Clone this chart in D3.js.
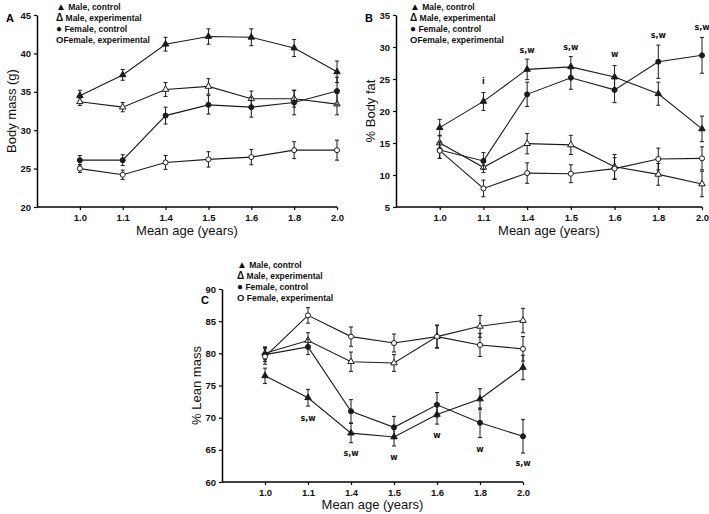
<!DOCTYPE html>
<html>
<head>
<meta charset="utf-8">
<script src="https://cdn.jsdelivr.net/npm/d3@7"></script>
<style>
  body { margin: 0; background: #fff; }
  svg { display: block; }
</style>
</head>
<body>
<svg id="fig" width="709" height="514"></svg>
<script>
// x categories, same for all three panels
const ages = ["1.0", "1.1", "1.4", "1.5", "1.6", "1.8", "2.0"];

// A - body mass (g), mean and SE
const massMaleCtrl = [34.5, 37.2, 41.2, 42.2, 42.1, 40.7, 37.6];
const massMaleCtrlSE = [0.7, 0.7, 0.9, 1.0, 1.1, 1.1, 1.4];
const massMaleExp = [33.7, 33.0, 35.3, 35.7, 34.1, 34.1, 33.4];
const massMaleExpSE = [0.5, 0.6, 0.9, 1.0, 1.0, 1.1, 1.4];
const massFemCtrl = [26.1, 26.1, 31.9, 33.3, 33.0, 33.6, 35.1];
const massFemCtrlSE = [0.6, 0.7, 1.1, 1.2, 1.3, 1.6, 1.8];
const massFemExp = [25.0, 24.2, 25.8, 26.2, 26.5, 27.4, 27.4];
const massFemExpSE = [0.5, 0.6, 0.9, 1.0, 1.0, 1.1, 1.3];
const massTicks = [20, 25, 30, 35, 40, 45];

// B - % body fat
const fatMaleCtrl = [17.4, 21.5, 26.5, 26.9, 25.3, 22.7, 17.2];
const fatMaleCtrlSE = [1.3, 1.4, 1.6, 1.6, 1.8, 1.8, 2.0];
const fatMaleExp = [15.0, 11.2, 14.9, 14.7, 11.3, 10.1, 8.6];
const fatMaleExpSE = [1.2, 0.8, 1.6, 1.5, 1.9, 1.7, 2.0];
const fatFemCtrl = [13.9, 12.2, 22.6, 25.2, 23.3, 27.7, 28.7];
const fatFemCtrlSE = [1.3, 1.3, 1.9, 1.8, 2.0, 2.6, 2.8];
const fatFemExp = [13.8, 7.9, 10.3, 10.2, 11.0, 12.5, 12.6];
const fatFemExpSE = [1.2, 1.3, 1.6, 1.4, 1.7, 1.7, 1.8];
const fatTicks = [5, 10, 15, 20, 25, 30, 35];
const fatNoteAges = ["1.1", "1.4", "1.5", "1.6", "1.8", "2.0"];
const fatNoteText = ["i", "s,w", "s,w", "w", "s,w", "s,w"];
const fatNoteAt = [24.7, 29.5, 30.0, 28.8, 31.8, 33.1];

// C - % lean mass
const leanMaleCtrl = [76.5, 73.1, 67.6, 67.0, 70.5, 72.9, 77.8];
const leanMaleCtrlSE = [1.2, 1.3, 1.5, 1.4, 1.5, 1.6, 1.9];
const leanMaleExp = [80.0, 82.0, 78.7, 78.5, 82.6, 84.2, 85.1];
const leanMaleExpSE = [1.0, 1.2, 1.5, 1.3, 1.7, 1.7, 1.9];
const leanFemCtrl = [79.8, 81.0, 71.0, 68.5, 72.0, 69.2, 67.1];
const leanFemCtrlSE = [1.1, 1.2, 1.8, 1.7, 1.9, 2.3, 2.6];
const leanFemExp = [79.5, 85.9, 82.6, 81.6, 82.6, 81.3, 80.7];
const leanFemExpSE = [1.2, 1.2, 1.5, 1.4, 1.8, 1.8, 1.9];
const leanTicks = [60, 65, 70, 75, 80, 85, 90];
const leanNoteAges = ["1.1", "1.4", "1.5", "1.6", "1.8", "2.0"];
const leanNoteText = ["s,w", "s,w", "w", "w", "w", "s,w"];
const leanNoteAt = [69.9, 64.4, 63.9, 67.3, 65.1, 62.95];

// legend: glyph + label
const legendGlyphs = ["\u25B2", "\u0394", "\u25CF", "O"];
const legendAB = [" Male, control", " Male, experimental", " Female, control", "Female, experimental"];
const legendC = [" Male, control", " Male, experimental", " Female, control", " Female, experimental"];

const ink = "#1b1b1b";
const sans = "'Liberation Sans', Arial, 'DejaVu Sans', sans-serif";
// marker style per series: triangle filled, triangle open, circle filled, circle open
const markers = [
  {type: d3.symbolTriangle, fill: ink},
  {type: d3.symbolTriangle, fill: "#fff"},
  {type: d3.symbolCircle, fill: ink},
  {type: d3.symbolCircle, fill: "#fff"}
];

const svg = d3.select("#fig");

function drawPanel(p) {
  const g = svg.append("g");
  const step = (p.right - p.left) / 7;
  const x = d3.scalePoint().domain(ages).range([p.left + step, p.right]);
  const y = d3.scaleLinear().domain([p.ticks[0], p.ticks[p.ticks.length - 1]]).range([p.bottom, p.top]);

  // axes
  const yAxis = g.append("g")
    .attr("transform", `translate(${p.left},0)`)
    .call(d3.axisLeft(y).tickValues(p.ticks).tickSize(3).tickPadding(3).tickSizeOuter(0));
  const xAxis = g.append("g")
    .attr("transform", `translate(0,${p.bottom})`)
    .call(d3.axisBottom(x).tickSize(3).tickPadding(4).tickSizeOuter(0));
  xAxis.select(".domain").attr("d", `M${p.left},0H${p.right}`);
  [yAxis, xAxis].forEach(a => {
    a.select(".domain").attr("stroke", "#000").attr("stroke-width", 1.5);
    a.selectAll(".tick line").attr("stroke", "#000").attr("stroke-width", 1.2);
    a.selectAll(".tick text").attr("fill", "#111")
      .style("font-family", sans).style("font-size", "9.5px").style("font-weight", "bold");
  });

  // axis titles
  g.append("text")
    .attr("x", (p.left + p.right) / 2).attr("y", p.bottom + p.titleGap)
    .attr("text-anchor", "middle")
    .style("font-family", sans).style("font-size", "13px").attr("fill", "#111")
    .text("Mean age (years)");
  g.append("text")
    .attr("transform", `translate(${p.left - 21},${(p.top + p.bottom) / 2}) rotate(-90)`)
    .attr("text-anchor", "middle")
    .style("font-family", sans).style("font-size", "13px").attr("fill", "#111")
    .text(p.yTitle);

  // panel letter
  g.append("text")
    .attr("x", p.letterX).attr("y", p.letterY)
    .style("font-family", sans).style("font-size", "11px").style("font-weight", "bold")
    .text(p.letter);

  // legend
  const lg = g.append("g").selectAll("text").data(p.legend).join("text")
    .attr("x", p.legendX).attr("y", (d, i) => p.legendY + i * 11)
    .style("font-family", sans).style("font-weight", "bold")
    .attr("fill", "#111");
  lg.append("tspan").style("font-size", (d, i) => i === 3 ? "9.5px" : "10px")
    .text((d, i) => legendGlyphs[i]);
  lg.append("tspan").style("font-size", "8.5px").text(d => d);

  // series
  const line = d3.line().x(d => x(d.age)).y(d => y(d.v));
  p.series.forEach((s, k) => {
    const pts = ages.map((a, i) => ({age: a, v: s.values[i], e: s.se[i]}));
    const sg = g.append("g");
    sg.append("path").attr("d", line(pts))
      .attr("fill", "none").attr("stroke", ink).attr("stroke-width", 1.1);
    const bars = sg.selectAll(".eb").data(pts).join("g").attr("class", "eb")
      .attr("stroke", ink).attr("stroke-width", 1);
    bars.append("line")
      .attr("x1", d => x(d.age)).attr("x2", d => x(d.age))
      .attr("y1", d => y(d.v - d.e)).attr("y2", d => y(d.v + d.e));
    bars.append("line")
      .attr("x1", d => x(d.age) - 2).attr("x2", d => x(d.age) + 2)
      .attr("y1", d => y(d.v + d.e)).attr("y2", d => y(d.v + d.e));
    bars.append("line")
      .attr("x1", d => x(d.age) - 2).attr("x2", d => x(d.age) + 2)
      .attr("y1", d => y(d.v - d.e)).attr("y2", d => y(d.v - d.e));
    const m = markers[k];
    sg.selectAll(".mk").data(pts).join("path").attr("class", "mk")
      .attr("transform", d => `translate(${x(d.age)},${y(d.v)})`)
      .attr("d", d3.symbol().type(m.type).size(m.type === d3.symbolTriangle ? 18 : 20))
      .attr("fill", m.fill).attr("stroke", ink).attr("stroke-width", 1);
  });

  // significance notes
  if (p.notes) {
    g.append("g").selectAll("text").data(p.notes.ages).join("text")
      .attr("x", d => x(d))
      .attr("y", (d, i) => y(p.notes.at[i]))
      .attr("dy", "0.35em")
      .attr("text-anchor", "middle")
      .style("font-family", "'DejaVu Sans', Verdana, sans-serif")
      .style("font-size", "8px").style("font-weight", "bold").attr("fill", "#111")
      .text((d, i) => p.notes.text[i]);
  }
}

drawPanel({
  left: 37, right: 337, top: 15, bottom: 207, titleGap: 28,
  ticks: massTicks, yTitle: "Body mass (g)",
  letter: "A", letterX: 6, letterY: 22,
  legend: legendAB, legendX: 56, legendY: 10,
  series: [
    {values: massMaleCtrl, se: massMaleCtrlSE},
    {values: massMaleExp, se: massMaleExpSE},
    {values: massFemCtrl, se: massFemCtrlSE},
    {values: massFemExp, se: massFemExpSE}
  ]
});

drawPanel({
  left: 396, right: 702, top: 15, bottom: 207, titleGap: 28,
  ticks: fatTicks, yTitle: "% Body fat",
  letter: "B", letterX: 365, letterY: 22,
  legend: legendAB, legendX: 410, legendY: 10,
  series: [
    {values: fatMaleCtrl, se: fatMaleCtrlSE},
    {values: fatMaleExp, se: fatMaleExpSE},
    {values: fatFemCtrl, se: fatFemCtrlSE},
    {values: fatFemExp, se: fatFemExpSE}
  ],
  notes: {ages: fatNoteAges, text: fatNoteText, at: fatNoteAt}
});

drawPanel({
  left: 222, right: 523, top: 289, bottom: 482, titleGap: 27,
  ticks: leanTicks, yTitle: "% Lean mass",
  letter: "C", letterX: 201, letterY: 304,
  legend: legendC, legendX: 237, legendY: 268,
  series: [
    {values: leanMaleCtrl, se: leanMaleCtrlSE},
    {values: leanMaleExp, se: leanMaleExpSE},
    {values: leanFemCtrl, se: leanFemCtrlSE},
    {values: leanFemExp, se: leanFemExpSE}
  ],
  notes: {ages: leanNoteAges, text: leanNoteText, at: leanNoteAt}
});
</script>
</body>
</html>
